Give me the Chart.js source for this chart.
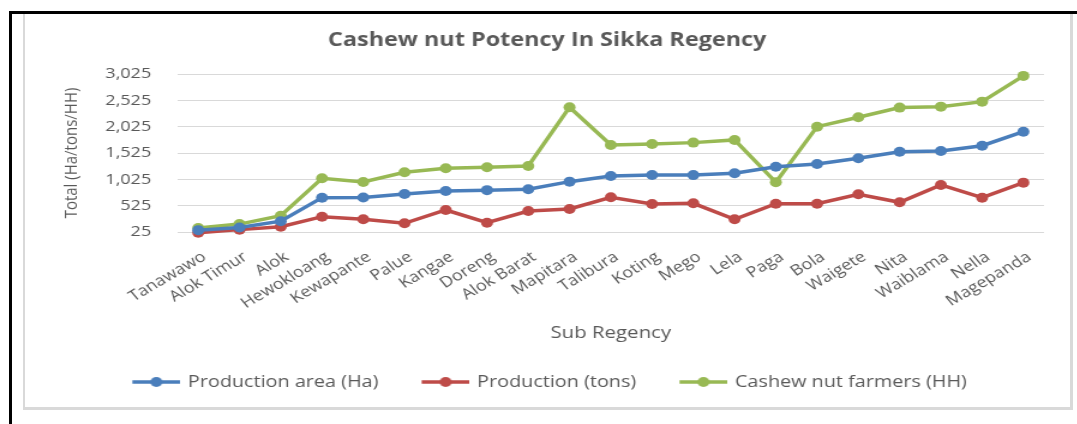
<!DOCTYPE html>
<html>
<head>
<meta charset="utf-8">
<script src="https://cdn.jsdelivr.net/npm/chart.js@4.4.1/dist/chart.umd.min.js"></script>
<style>
    body { margin: 0; background: #fff; overflow: hidden; }
    #wrap { position: absolute; left: 0; top: 0; width: 898px; height: 424px; transform: scaleX(1.2); transform-origin: 0 0; }
    .line { position: absolute; pointer-events: none; }
</style>
</head>
<body>
<div id="wrap"><canvas id="grafico" width="898" height="424"></canvas></div>
<div class="line" style="left:9px;top:11px;width:1068px;height:3px;background:#000"></div>
<div class="line" style="left:9px;top:11px;width:3px;height:413px;background:#000"></div>
<div class="line" style="left:23px;top:14px;width:2px;height:395px;background:#d9d9d9"></div>
<div class="line" style="left:1070px;top:14px;width:3px;height:395px;background:#d9d9d9"></div>
<div class="line" style="left:23px;top:407px;width:1050px;height:3px;background:#d9d9d9"></div>
<script>
const subRegencies = ['Tanawawo', 'Alok Timur', 'Alok', 'Hewokloang', 'Kewapante', 'Palue', 'Kangae', 'Doreng',
    'Alok Barat', 'Mapitara', 'Talibura', 'Koting', 'Mego', 'Lela', 'Paga', 'Bola', 'Waigete', 'Nita',
    'Waiblama', 'Nella', 'Magepanda'];
const productionArea = [60, 110, 230, 677, 680, 747, 804, 820, 836, 981, 1089, 1108, 1105, 1140, 1265, 1317, 1425, 1550, 1563, 1664, 1930];
const productionTons = [10, 70, 126, 316, 266, 190, 443, 202, 424, 462, 684, 557, 570, 266, 563, 563, 741, 589, 918, 677, 962];
const farmers = [100, 175, 335, 1045, 975, 1159, 1235, 1254, 1279, 2394, 1678, 1697, 1722, 1773, 969, 2025, 2204, 2387, 2405, 2500, 2989];
const yTicks = [25, 525, 1025, 1525, 2025, 2525, 3025];

const azul = '#4a7ebb';
const vermelho = '#be4b48';
const verde = '#98b954';
const cinza = '#595959';
const fonte = "'Open Sans', sans-serif";

// legend icon: line with a marker, transparent space on the left
function icone(cor) {
    let c = document.createElement('canvas');
    c.width = 74;
    c.height = 12;
    let ctx = c.getContext('2d');
    ctx.strokeStyle = cor;
    ctx.lineWidth = 3.5;
    ctx.beginPath();
    ctx.moveTo(34, 6);
    ctx.lineTo(74, 6);
    ctx.stroke();
    ctx.fillStyle = cor;
    ctx.beginPath();
    ctx.arc(54, 6, 5, 0, Math.PI * 2);
    ctx.fill();
    return c;
}

function serie(label, data, cor) {
    return {
        label: label,
        data: data,
        borderColor: cor,
        backgroundColor: cor,
        borderWidth: 3.5,
        pointRadius: 5,
        pointHoverRadius: 5,
        pointBorderWidth: 0,
        clip: false,
        tension: 0
    };
}

// the legend sits a little left of centre
const moveLegenda = {
    id: 'moveLegenda',
    afterLayout: function (chart) {
        chart.legend.left -= 14;
        chart.legend.right -= 14;
    }
};

const ctx = document.getElementById('grafico').getContext('2d');
const graficoLinhas = new Chart(ctx, {
    type: 'line',
    data: {
        labels: subRegencies,
        datasets: [
            serie('Production area (Ha)', productionArea, azul),
            serie('Production (tons)', productionTons, vermelho),
            serie('Cashew nut farmers (HH)', farmers, verde)
        ]
    },
    plugins: [moveLegenda],
    options: {
        responsive: false,
        animation: false,
        layout: { padding: { left: 42, right: 28, top: 0, bottom: 23.75 } },
        plugins: {
            title: {
                display: true,
                text: 'Cashew nut Potency In Sikka Regency',
                color: cinza,
                font: { family: fonte, size: 19.5, weight: 'bold' },
                padding: { top: 28.3, bottom: 22.3 }
            },
            legend: {
                position: 'bottom',
                labels: {
                    usePointStyle: true,
                    pointStyleWidth: 70,
                    padding: 4,
                    color: cinza,
                    font: { family: fonte, size: 16.5 },
                    generateLabels: function (chart) {
                        return chart.data.datasets.map(function (ds, i) {
                            return {
                                text: ds.label,
                                pointStyle: icone(ds.borderColor),
                                fillStyle: ds.borderColor,
                                strokeStyle: ds.borderColor,
                                fontColor: cinza,
                                lineWidth: 0,
                                hidden: false,
                                datasetIndex: i
                            };
                        });
                    }
                }
            },
            tooltip: { enabled: false }
        },
        scales: {
            x: {
                offset: true,
                grid: { display: false },
                border: { display: false },
                ticks: {
                    color: cinza,
                    font: { family: fonte, size: 15 },
                    minRotation: 35,
                    maxRotation: 35,
                    autoSkip: false,
                    padding: 8,
                    labelOffset: 5
                },
                title: {
                    display: true,
                    text: 'Sub Regency',
                    color: cinza,
                    font: { family: fonte, size: 17 },
                    padding: { top: 0, bottom: 26.5 }
                },
                afterFit: function (scale) { scale.height = 137.75; }
            },
            y: {
                min: yTicks[0],
                max: yTicks[yTicks.length - 1],
                grid: { color: '#d9d9d9', lineWidth: 1, drawTicks: false },
                border: { display: false },
                afterBuildTicks: function (scale) {
                    scale.ticks = yTicks.map(function (v) { return { value: v }; });
                },
                ticks: {
                    color: cinza,
                    font: { family: fonte, size: 15 },
                    padding: 22,
                    callback: function (v) { return v.toLocaleString('en-US'); }
                },
                title: {
                    display: true,
                    text: 'Total (Ha/tons/HH)',
                    color: cinza,
                    font: { family: fonte, size: 15 },
                    padding: { top: 9, bottom: 0 }
                },
                afterFit: function (scale) { scale.width = 106; }
            }
        }
    }
});
</script>
</body>
</html>
